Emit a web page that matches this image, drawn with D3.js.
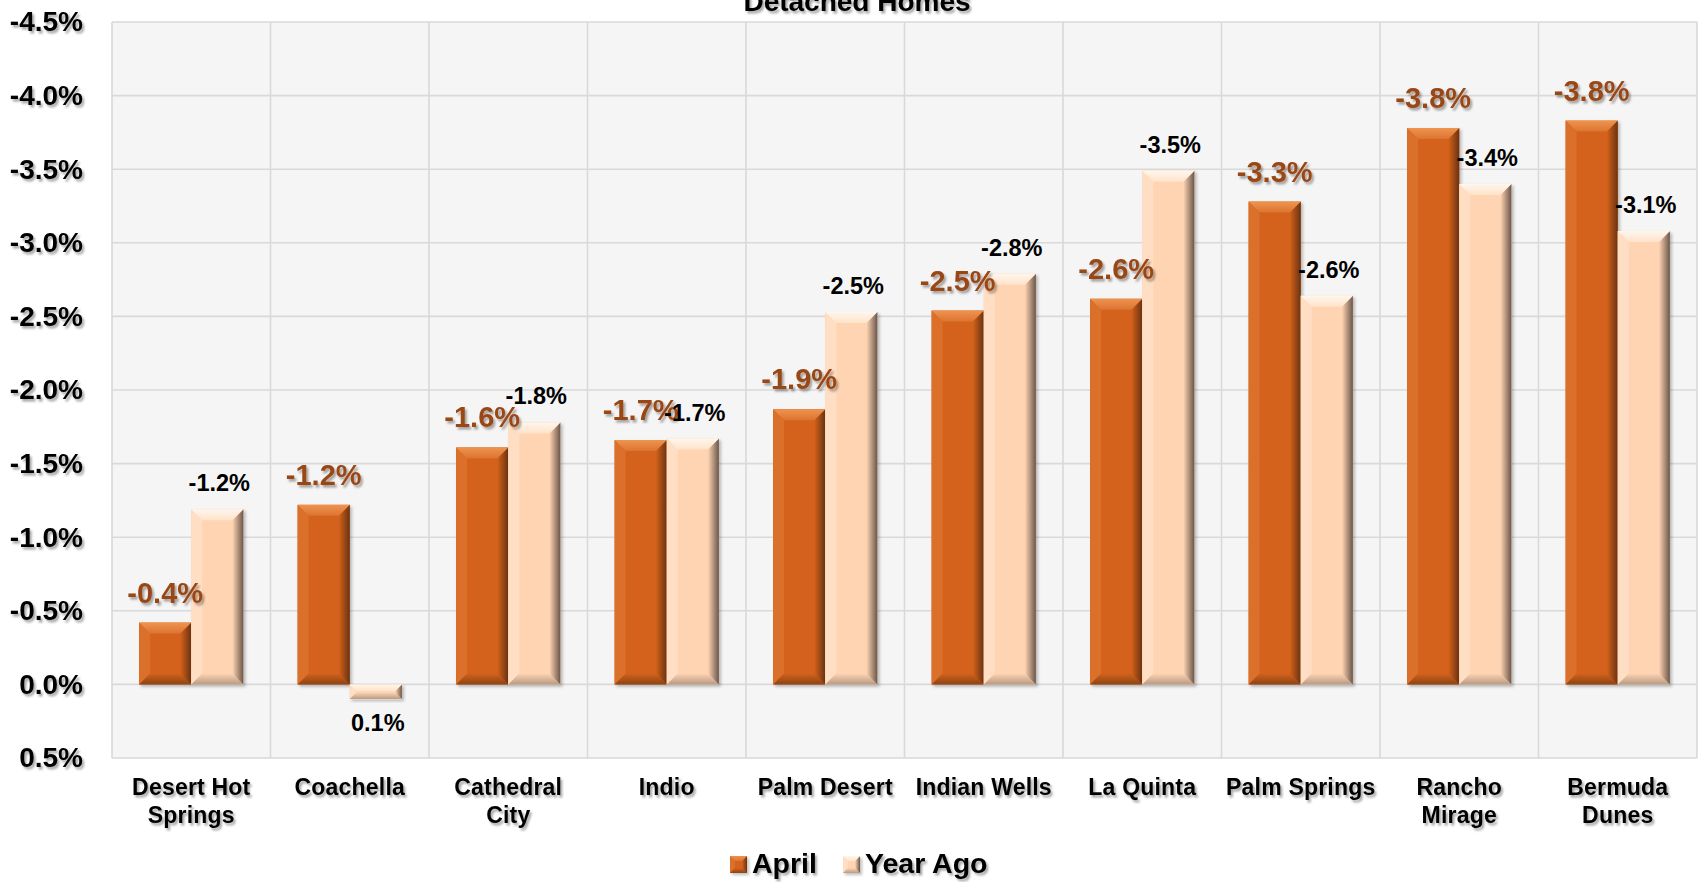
<!DOCTYPE html>
<html>
<head>
<meta charset="utf-8">
<script src="https://cdn.jsdelivr.net/npm/d3@7"></script>
<style>
  html, body { margin: 0; padding: 0; background: #ffffff; }
  svg { display: block; }
  text { font-family: "Liberation Sans", Arial, sans-serif; font-weight: bold; }
</style>
</head>
<body>
<svg id="chart" width="1701" height="882"></svg>
<script>
// ---------- data ----------
const title = "Detached Homes";
const categories = ["Desert Hot Springs", "Coachella", "Cathedral City", "Indio", "Palm Desert",
                    "Indian Wells", "La Quinta", "Palm Springs", "Rancho Mirage", "Bermuda Dunes"];
const categoryLines = [["Desert Hot", "Springs"], ["Coachella"], ["Cathedral", "City"], ["Indio"],
                       ["Palm Desert"], ["Indian Wells"], ["La Quinta"], ["Palm Springs"],
                       ["Rancho", "Mirage"], ["Bermuda", "Dunes"]];
const seriesNames = ["April", "Year Ago"];
const aprilValues   = [-0.42, -1.22, -1.61, -1.66, -1.87, -2.54, -2.62, -3.28, -3.78, -3.83];
const yearAgoValues = [-1.19,  0.10, -1.78, -1.67, -2.53, -2.79, -3.49, -2.64, -3.40, -3.08];
const yTicks = [-4.5, -4.0, -3.5, -3.0, -2.5, -2.0, -1.5, -1.0, -0.5, 0.0, 0.5];

// ---------- layout ----------
const svg = d3.select("#chart");
const plot = { left: 112, right: 1697, top: 22, bottom: 758 };
const fmt = v => v.toFixed(1) + "%";

const x0 = d3.scaleBand().domain(categories).range([plot.left, plot.right]).padding(0);
const x1 = d3.scaleBand().domain(seriesNames).range([0, x0.bandwidth()]).paddingInner(0).paddingOuter(0.52);
const y = d3.scaleLinear().domain([-4.5, 0.5]).range([plot.top, plot.bottom]);

const palette = {
  "April":    { base: "#D4621B", top: "#EE9450", topIn: "#DC7430", right: "#6A3210", bottom: "#8C4416", left: "#DA6F2A", label: "#9A4716" },
  "Year Ago": { base: "#FFD4B2", top: "#FFF6EC", topIn: "#FFE3CB", right: "#6A564A", bottom: "#B89A84", left: "#FFDEC4", label: "#000000" }
};

// ---------- defs ----------
const defs = svg.append("defs");
const ts = defs.append("filter").attr("id", "tshadow").attr("x", "-10%").attr("y", "-20%").attr("width", "130%").attr("height", "160%");
ts.append("feDropShadow").attr("dx", 2).attr("dy", 2.5).attr("stdDeviation", 1.3)
  .attr("flood-color", "#000").attr("flood-opacity", 0.35);
const bs = defs.append("filter").attr("id", "bshadow").attr("x", "-10%").attr("y", "-10%").attr("width", "130%").attr("height", "130%");
bs.append("feDropShadow").attr("dx", 2).attr("dy", 2).attr("stdDeviation", 1.5)
  .attr("flood-color", "#000").attr("flood-opacity", 0.25);

seriesNames.forEach((s, i) => {
  const c = palette[s];
  const gr = defs.append("linearGradient").attr("id", "gr" + i).attr("x1", 0).attr("x2", 1).attr("y1", 0).attr("y2", 0);
  gr.append("stop").attr("offset", "0%").attr("stop-color", c.base);
  gr.append("stop").attr("offset", "100%").attr("stop-color", c.right);
  const gt = defs.append("linearGradient").attr("id", "gt" + i).attr("x1", 0).attr("x2", 0).attr("y1", 0).attr("y2", 1);
  gt.append("stop").attr("offset", "0%").attr("stop-color", c.top);
  gt.append("stop").attr("offset", "100%").attr("stop-color", c.topIn);
  const gb = defs.append("linearGradient").attr("id", "gb" + i).attr("x1", 0).attr("x2", 0).attr("y1", 0).attr("y2", 1);
  gb.append("stop").attr("offset", "0%").attr("stop-color", c.base);
  gb.append("stop").attr("offset", "100%").attr("stop-color", c.bottom);
});

// ---------- plot background & grid ----------
svg.append("rect").attr("x", plot.left).attr("y", plot.top)
  .attr("width", plot.right - plot.left).attr("height", plot.bottom - plot.top)
  .attr("fill", "#F5F5F5");

const grid = svg.append("g").attr("stroke", "#D9D9D9").attr("stroke-width", 1.6);
grid.selectAll("line.h").data(yTicks).join("line").attr("class", "h")
  .attr("x1", plot.left).attr("x2", plot.right)
  .attr("y1", d => y(d)).attr("y2", d => y(d));
const vlines = categories.map(c => x0(c)).concat([plot.right]);
grid.selectAll("line.v").data(vlines).join("line").attr("class", "v")
  .attr("x1", d => d).attr("x2", d => d)
  .attr("y1", plot.top).attr("y2", plot.bottom);

// ---------- title ----------
svg.append("text").attr("x", 857).attr("y", 11).attr("text-anchor", "middle")
  .attr("font-size", 28).attr("fill", "#000").attr("filter", "url(#tshadow)").text(title);

// ---------- y axis ----------
const yAxis = d3.axisLeft(y).tickValues(yTicks).tickFormat(fmt).tickSize(0).tickPadding(29);
const yg = svg.append("g").attr("transform", `translate(${plot.left},0)`).call(yAxis);
yg.select(".domain").remove();
yg.selectAll("text").attr("font-size", 28).attr("font-family", "Liberation Sans, Arial, sans-serif")
  .attr("font-weight", "bold").attr("fill", "#000").attr("filter", "url(#tshadow)");

// ---------- x axis ----------
const xAxis = d3.axisBottom(x0).tickSize(0).tickFormat("");
const xg = svg.append("g").attr("transform", `translate(0,${plot.bottom})`).call(xAxis);
xg.select(".domain").remove();
xg.selectAll(".tick").each(function(d, i) {
  const t = d3.select(this).append("text").attr("fill", "#000").attr("font-size", 23)
    .attr("text-anchor", "middle").attr("filter", "url(#tshadow)").attr("letter-spacing", 0.2);
  categoryLines[i].forEach((ln, k) => {
    t.append("tspan").attr("x", 0).attr("y", 37 + k * 28).text(ln);
  });
});

// ---------- bars ----------
const seriesData = [aprilValues, yearAgoValues];
const rows = [];
categories.forEach((c, ci) => {
  seriesNames.forEach((s, si) => rows.push({ cat: c, series: s, si: si, v: seriesData[si][ci] }));
});

function bevelPaths(x0p, x1p, yTop, yBot, b) {
  return {
    top:    `M${x0p},${yTop}L${x1p},${yTop}L${x1p - b},${yTop + b}L${x0p + b},${yTop + b}Z`,
    right:  `M${x1p},${yTop}L${x1p},${yBot}L${x1p - b},${yBot - b}L${x1p - b},${yTop + b}Z`,
    bottom: `M${x0p},${yBot}L${x1p},${yBot}L${x1p - b},${yBot - b}L${x0p + b},${yBot - b}Z`,
    left:   `M${x0p},${yTop}L${x0p + b},${yTop + b}L${x0p + b},${yBot - b}L${x0p},${yBot}Z`
  };
}

const barG = svg.append("g");
rows.forEach(r => {
  const c = palette[r.series];
  const bx = x0(r.cat) + x1(r.series);
  const bw = x1.bandwidth();
  const yTop = Math.min(y(r.v), y(0));
  const yBot = Math.max(y(r.v), y(0));
  const h = yBot - yTop;
  const b = Math.min(11, h / 2.2);
  const g = barG.append("g").attr("filter", "url(#bshadow)");
  g.append("rect").attr("x", bx).attr("y", yTop).attr("width", bw).attr("height", h).attr("fill", c.base);
  const p = bevelPaths(bx, bx + bw, yTop, yBot, b);
  g.append("path").attr("d", p.left).attr("fill", c.left);
  g.append("path").attr("d", p.bottom).attr("fill", `url(#gb${r.si})`);
  g.append("path").attr("d", p.right).attr("fill", `url(#gr${r.si})`);
  g.append("path").attr("d", p.top).attr("fill", `url(#gt${r.si})`);
});

// ---------- data labels ----------
const labG = svg.append("g");
rows.forEach(r => {
  const c = palette[r.series];
  const cx = x0(r.cat) + x1(r.series) + x1.bandwidth() / 2;
  const isApril = r.si === 0;
  const gap = isApril ? 20 : 18;
  const ly = r.v <= 0 ? y(r.v) - gap : y(r.v) + 32;
  labG.append("text").attr("x", cx + (isApril ? 0 : 2)).attr("y", ly)
    .attr("text-anchor", "middle")
    .attr("font-size", isApril ? 29 : 23.5)
    .attr("font-weight", "bold")
    .attr("fill", c.label)
    .attr("filter", isApril ? "url(#tshadow)" : null)
    .text(fmt(r.v));
});

// ---------- legend ----------
const legendItems = [{ name: "April", x: 730, si: 0 }, { name: "Year Ago", x: 843, si: 1 }];
const lg = svg.append("g");
legendItems.forEach(it => {
  const c = palette[it.name];
  const sx = it.x, sy = 856, sw = 17;
  const g = lg.append("g").attr("filter", "url(#bshadow)");
  g.append("rect").attr("x", sx).attr("y", sy).attr("width", sw).attr("height", sw).attr("fill", c.base);
  const p = bevelPaths(sx, sx + sw, sy, sy + sw, 5);
  g.append("path").attr("d", p.left).attr("fill", c.left);
  g.append("path").attr("d", p.bottom).attr("fill", `url(#gb${it.si})`);
  g.append("path").attr("d", p.right).attr("fill", `url(#gr${it.si})`);
  g.append("path").attr("d", p.top).attr("fill", `url(#gt${it.si})`);
  lg.append("text").attr("x", sx + sw + 5).attr("y", 873).attr("font-size", 28.5)
    .attr("fill", "#000").attr("filter", "url(#tshadow)").text(it.name);
});
</script>
</body>
</html>
